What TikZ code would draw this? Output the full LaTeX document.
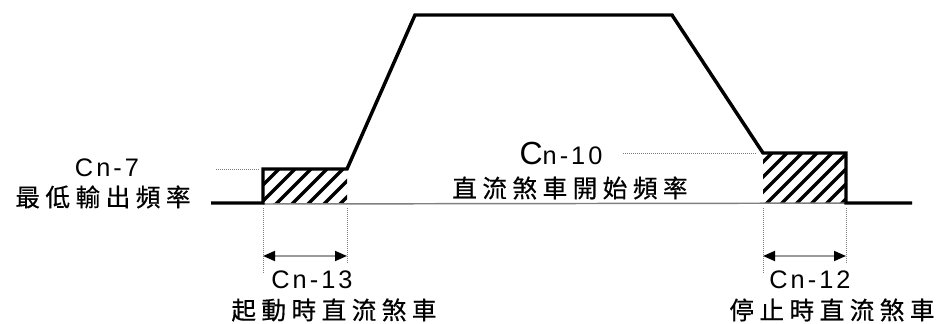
\documentclass[tikz,border=0pt]{standalone}
\usepackage{fontspec}
\setmainfont{Liberation Sans}
\newfontfamily\latinsp[LetterSpace=12]{Liberation Sans}
\newfontfamily\cjk[LetterSpace=22,FakeBold=0.5]{Noto Sans CJK TC}
\usetikzlibrary{arrows.meta}
\tikzset{
  wave/.style={line width=2.6pt,line join=miter},
  hatch/.style={line width=2.5pt},
  guide/.style={gray,densely dotted,line width=0.5pt},
  dimline/.style={{Triangle[black,length=9pt,width=7.5pt]}-{Triangle[black,length=9pt,width=7.5pt]},gray!80,line width=1.4pt},
  codelabel/.style={font=\latinsp\fontsize{19}{21}\selectfont,inner sep=0pt},
  cjklabel/.style={font=\cjk\fontsize{18.5}{20}\selectfont,inner sep=0pt}
}
\begin{document}
\begin{tikzpicture}[x=0.75pt,y=-0.75pt]
  \useasboundingbox (0,0) rectangle (940,324);
  % waveform corners
  \coordinate (s0) at (211,203);
  \coordinate (a1) at (263,203);
  \coordinate (a2) at (263,169);
  \coordinate (a3) at (347,169);
  \coordinate (t1) at (415,15);
  \coordinate (t2) at (672,15);
  \coordinate (b1) at (763,153);
  \coordinate (b2) at (846,153);
  \coordinate (b3) at (846,203);
  \coordinate (e0) at (912,203);
  % hatched braking zones
  \begin{scope}
    \clip (a1) rectangle (a3);
    \foreach \x in {222,238,...,350} \draw[hatch] (\x,210) -- ++(50,-50);
  \end{scope}
  \begin{scope}
    \clip (b1) rectangle (b3);
    \foreach \x in {700,715,...,850} \draw[hatch] (\x,210) -- ++(64,-64);
  \end{scope}
  \draw[gray,line width=1.1pt] (263,204) -- (e0);
  \draw[wave] (s0) -- (a1) -- (a2) -- (a3) -- (t1) -- (t2) -- (b1) -- (b2) -- (b3) -- (e0);
  % level guides
  \draw[guide] (216,169) -- (260,169);
  \draw[guide] (623,153) -- (756,153);
  \draw[guide] (263,208) -- (263,274);
  \draw[guide] (347,208) -- (347,264);
  \draw[guide] (763,208) -- (763,274);
  \draw[guide] (846,208) -- (846,264);
  % time spans
  \coordinate (d1) at (263,256);
  \coordinate (d2) at (347,256);
  \coordinate (d3) at (763,256);
  \coordinate (d4) at (846,256);
  \draw[dimline] (d1) -- (d2);
  \draw[dimline] (d3) -- (d4);
  % labels
  \node[codelabel] (cn7) at (107,168) {Cn-7};
  \node[cjklabel] (fmin) at (103,197) {最低輸出頻率};
  \node[codelabel,anchor=base] (cn10) at (561,165) {{\fontsize{24}{24}\selectfont C}n-10};
  \node[cjklabel] (fdc) at (570,188) {直流煞車開始頻率};
  \node[codelabel] (cn13) at (312,280) {Cn-13};
  \node[cjklabel] (tstart) at (334,310) {起動時直流煞車};
  \node[codelabel] (cn12) at (810,280) {Cn-12};
  \node[cjklabel] (tstop) at (832,310) {停止時直流煞車};
\end{tikzpicture}
\end{document}
